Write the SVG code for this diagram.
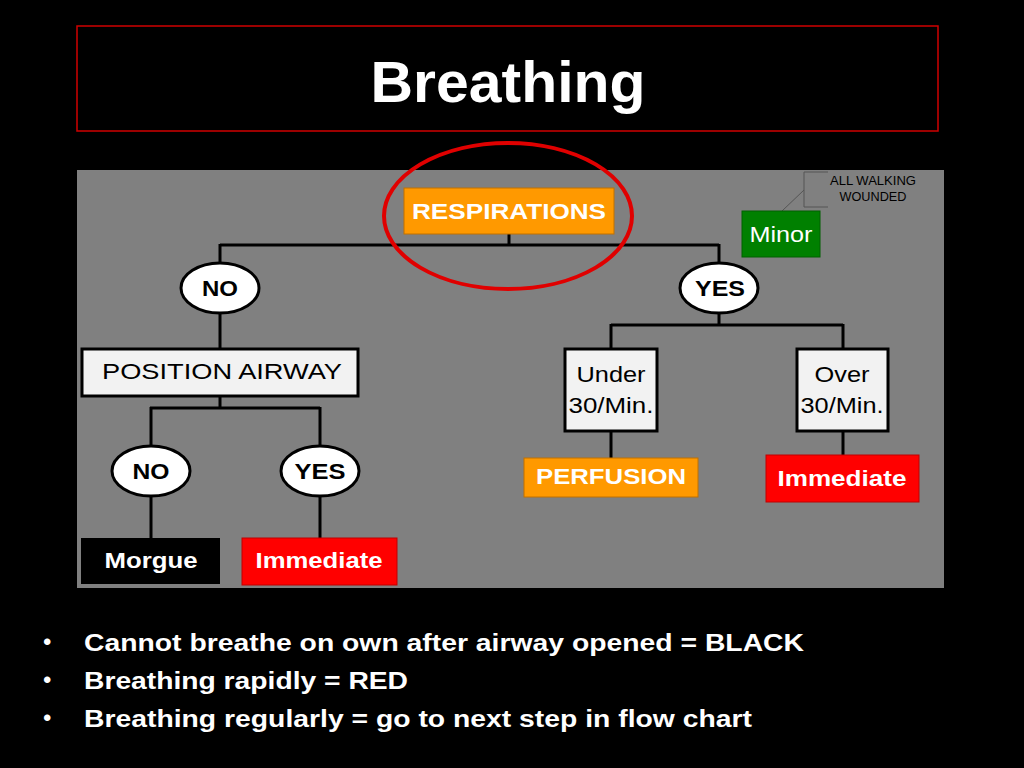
<svg xmlns="http://www.w3.org/2000/svg" width="1024" height="768" viewBox="0 0 1024 768">
<style>
text{font-family:"Liberation Sans",Arial,sans-serif}
.w{fill:#fff}
.b{font-weight:bold}
.c{text-anchor:middle}
.conn line{stroke:#000;stroke-width:3}
.oval{fill:#fff;stroke:#000;stroke-width:3}
.box{fill:#f2f2f2;stroke:#000;stroke-width:3}
</style>
<rect width="1024" height="768" fill="#000"/>
<g id="title">
<rect x="77" y="26" width="861" height="105" fill="#000" stroke="#d00000" stroke-width="1.5"/>
<text x="508" y="102" class="w b c" font-size="58" textLength="275" lengthAdjust="spacingAndGlyphs">Breathing</text>
</g>
<rect id="panel" x="77" y="170" width="867" height="418" fill="#808080"/>
<g class="conn" id="connectors">
<line x1="509" y1="234" x2="509" y2="245"/>
<line x1="220" y1="245" x2="719" y2="245"/>
<line x1="220" y1="244" x2="220" y2="263"/>
<line x1="719" y1="244" x2="719" y2="263"/>
<line x1="220" y1="314" x2="220" y2="349"/>
<line x1="220" y1="396" x2="220" y2="408"/>
<line x1="150" y1="408" x2="320" y2="408"/>
<line x1="151" y1="407" x2="151" y2="446"/>
<line x1="320" y1="407" x2="320" y2="446"/>
<line x1="151" y1="497" x2="151" y2="538"/>
<line x1="320" y1="497" x2="320" y2="538"/>
<line x1="719" y1="313" x2="719" y2="325"/>
<line x1="611" y1="325" x2="843" y2="325"/>
<line x1="611" y1="324" x2="611" y2="349"/>
<line x1="843" y1="324" x2="843" y2="349"/>
<line x1="611" y1="431" x2="611" y2="458"/>
<line x1="843" y1="431" x2="843" y2="455"/>
</g>
<g id="respirations">
<rect x="404" y="188" width="210" height="46" fill="#ff9900" stroke="#c07000" stroke-width="1"/>
<text x="509" y="219" class="w b c" font-size="22" textLength="194" lengthAdjust="spacingAndGlyphs">RESPIRATIONS</text>
</g>
<ellipse id="highlight" cx="508" cy="216" rx="124" ry="73" fill="none" stroke="#e00000" stroke-width="4"/>
<g id="callout">
<path d="M828,172 H804 V207 H828" fill="none" stroke="#555" stroke-width="1"/>
<line x1="804" y1="190" x2="782" y2="211" stroke="#555" stroke-width="1"/>
<text x="873" y="185" class="c" font-size="12" fill="#000" textLength="86" lengthAdjust="spacingAndGlyphs">ALL WALKING</text>
<text x="873" y="201" class="c" font-size="12" fill="#000" textLength="67" lengthAdjust="spacingAndGlyphs">WOUNDED</text>
</g>
<g id="minor">
<rect x="742" y="211" width="78" height="46" fill="#008000" stroke="#006000" stroke-width="1"/>
<text x="781" y="242" class="w c" font-size="22" textLength="63" lengthAdjust="spacingAndGlyphs">Minor</text>
</g>
<g id="no1">
<ellipse cx="220" cy="288" rx="39" ry="25" class="oval"/>
<text x="220" y="296" class="b c" font-size="22" textLength="36" lengthAdjust="spacingAndGlyphs">NO</text>
</g>
<g id="yes1">
<ellipse cx="719" cy="288" rx="39" ry="25" class="oval"/>
<text x="720" y="296" class="b c" font-size="22" textLength="50" lengthAdjust="spacingAndGlyphs">YES</text>
</g>
<g id="position-airway">
<rect x="82" y="349" width="276" height="47" class="box"/>
<text x="222" y="379" class="c" font-size="22" textLength="240" lengthAdjust="spacingAndGlyphs">POSITION AIRWAY</text>
</g>
<g id="no2">
<ellipse cx="151" cy="471" rx="39" ry="25" class="oval"/>
<text x="151" y="479" class="b c" font-size="22" textLength="37" lengthAdjust="spacingAndGlyphs">NO</text>
</g>
<g id="yes2">
<ellipse cx="320" cy="471" rx="39" ry="25" class="oval"/>
<text x="320" y="479" class="b c" font-size="22" textLength="51" lengthAdjust="spacingAndGlyphs">YES</text>
</g>
<g id="morgue">
<rect x="81" y="538" width="139" height="46" fill="#000"/>
<text x="151" y="568" class="w b c" font-size="22" textLength="93" lengthAdjust="spacingAndGlyphs">Morgue</text>
</g>
<g id="immediate1">
<rect x="242" y="538" width="155" height="47" fill="#ff0000" stroke="#c00000" stroke-width="1"/>
<text x="319" y="568" class="w b c" font-size="22" textLength="127" lengthAdjust="spacingAndGlyphs">Immediate</text>
</g>
<g id="under">
<rect x="565" y="349" width="92" height="82" class="box"/>
<text x="611" y="382" class="c" font-size="22" textLength="69" lengthAdjust="spacingAndGlyphs">Under</text>
<text x="611" y="413" class="c" font-size="22" textLength="85" lengthAdjust="spacingAndGlyphs">30/Min.</text>
</g>
<g id="over">
<rect x="797" y="349" width="91" height="82" class="box"/>
<text x="842" y="382" class="c" font-size="22" textLength="55" lengthAdjust="spacingAndGlyphs">Over</text>
<text x="842" y="413" class="c" font-size="22" textLength="83" lengthAdjust="spacingAndGlyphs">30/Min.</text>
</g>
<g id="perfusion">
<rect x="524" y="458" width="174" height="39" fill="#ff9900" stroke="#c07000" stroke-width="1"/>
<text x="611" y="484" class="w b c" font-size="22" textLength="150" lengthAdjust="spacingAndGlyphs">PERFUSION</text>
</g>
<g id="immediate2">
<rect x="766" y="455" width="153" height="47" fill="#ff0000" stroke="#c00000" stroke-width="1"/>
<text x="842" y="486" class="w b c" font-size="22" textLength="129" lengthAdjust="spacingAndGlyphs">Immediate</text>
</g>
<g id="bullets" class="w" font-size="24">
<text x="43" y="650" font-size="24">•</text>
<text x="84" y="651" class="b" textLength="720" lengthAdjust="spacingAndGlyphs">Cannot breathe on own after airway opened = BLACK</text>
<text x="43" y="688" font-size="24">•</text>
<text x="84" y="689" class="b" textLength="324" lengthAdjust="spacingAndGlyphs">Breathing rapidly = RED</text>
<text x="43" y="726" font-size="24">•</text>
<text x="84" y="727" class="b" textLength="668" lengthAdjust="spacingAndGlyphs">Breathing regularly = go to next step in flow chart</text>
</g>
</svg>
